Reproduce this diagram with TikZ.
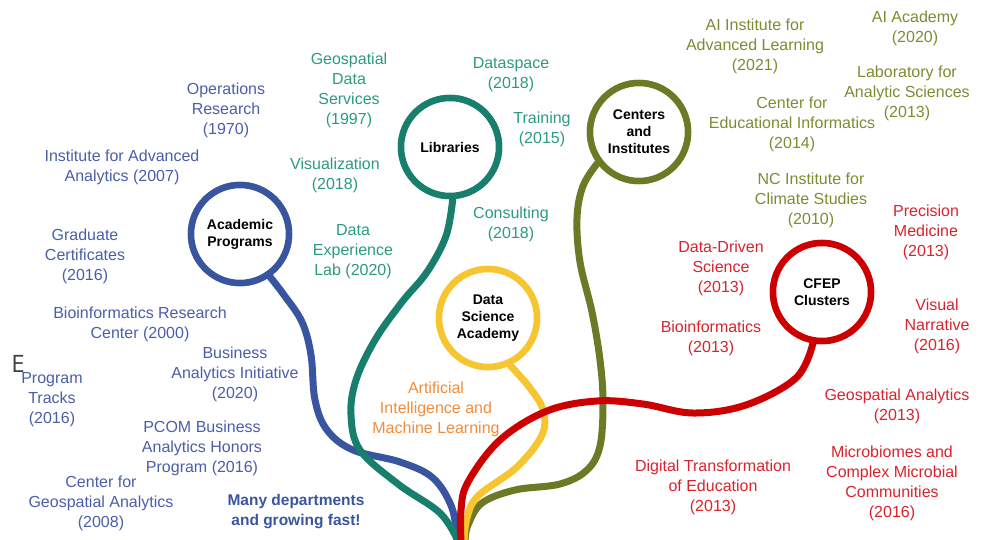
\documentclass[tikz,border=0pt]{standalone}
\usepackage{fontspec}
\setmainfont{Liberation Sans}
\newfontfamily\strayfont{Open Sans}
\definecolor{cblue}{HTML}{3A559F}
\definecolor{tblue}{HTML}{4A5EA9}
\definecolor{cteal}{HTML}{177F6C}
\definecolor{tteal}{HTML}{2B9A7F}
\definecolor{colive}{HTML}{6B7B25}
\definecolor{tolive}{HTML}{7C8C31}
\definecolor{cyellow}{HTML}{F7C52F}
\definecolor{cred}{HTML}{CC0000}
\definecolor{tred}{HTML}{D8232D}
\definecolor{torange}{HTML}{F28C3C}
\tikzset{
  hub/.style={circle, draw, line width=6.5pt, fill=white, minimum size=98pt, inner sep=0pt,
    align=center, font=\fontsize{14}{17}\selectfont\bfseries, text=black},
  lbl/.style={align=center, font=\fontsize{16}{20}\selectfont, inner sep=0pt},
  stem/.style={line width=7pt, line cap=round, line join=round},
}
\begin{document}
\begin{tikzpicture}[x=1pt, y=-1pt]
\useasboundingbox (0,0) rectangle (985,540);
% root coordinates
\coordinate (rb) at (457,541);
\coordinate (rt) at (458,541);
\coordinate (rr) at (461,541);
\coordinate (ry) at (464,541);
\coordinate (ro) at (465,541);
% hubs (positions)
\node[hub, draw=cblue] (ap) at (240,234) {Academic\\Programs};
\node[hub, draw=cteal] (lib) at (450,147) {Libraries};
\node[hub, draw=colive] (cen) at (639,132) {Centers\\and\\Institutes};
\node[hub, draw=cred] (cfep) at (822,292) {CFEP\\Clusters};
\node[hub, draw=cyellow] (dsa) at (488,318) {Data\\Science\\Academy};
% stems
\draw[stem, cblue] plot[smooth, tension=0.6] coordinates {(ap.-55) (284,295) (302,322) (311,355) (315,400) (327,430) (353,450) (400,462) (433,478) (452,508) (rb)};
\draw[stem, cteal] plot[smooth, tension=0.6] coordinates {(lib.-87) (446,236) (427,272) (402,302) (375,340) (356,380) (351,415) (360,450) (398,484) (440,513) (rt)};
\draw[stem, colive] plot[smooth, tension=0.6] coordinates {(cen.-143) (583,186) (577,218) (580,262) (592,312) (600,360) (603,402) (600,446) (587,470) (560,484) (515,490) (482,503) (468,525) (ro)};
\draw[stem, cyellow] plot[smooth, tension=0.6] coordinates {(dsa.-65) (530,388) (543,410) (542,435) (517,467) (478,496) (467,518) (ry)};
\draw[stem, cred] plot[smooth, tension=0.6] coordinates {(cfep.-100) (796,378) (746,405) (693,413) (643,404) (597,401) (547,411) (500,440) (468,482) (461,510) (rr)};
% redraw hubs on top
\node[hub, draw=cblue] at (ap) {Academic\\Programs};
\node[hub, draw=cteal] at (lib) {Libraries};
\node[hub, draw=colive] at (cen) {Centers\\and\\Institutes};
\node[hub, draw=cred] at (cfep) {CFEP\\Clusters};
\node[hub, draw=cyellow] at (dsa) {Data\\Science\\Academy};
% blue labels
\begin{scope}[every node/.style={lbl, text=tblue}]
\node (b1) at (226,110) {Operations\\Research\\(1970)};
\node (b2) at (122,167) {Institute for Advanced\\Analytics (2007)};
\node (b3) at (85,256) {Graduate\\Certificates\\(2016)};
\node (b4) at (140,324) {Bioinformatics Research\\Center (2000)};
\node (b5) at (235,374) {Business\\Analytics Initiative\\(2020)};
\node (b6) at (52,400) {Program\\Tracks\\(2016)};
\node (b7) at (202,448) {PCOM Business\\Analytics Honors\\Program (2016)};
\node (b8) at (101,503) {Center for\\Geospatial Analytics\\(2008)};
\node[font=\fontsize{15.5}{20}\selectfont\bfseries, text=cblue] (b9) at (296,512) {Many departments\\and growing fast!};
\end{scope}
\node[inner sep=0pt, text=black!75, font=\strayfont\fontsize{24}{24}\selectfont] (stray) at (18,364) {E};
% teal labels
\begin{scope}[every node/.style={lbl, text=tteal}]
\node (t1) at (349,90) {Geospatial\\Data\\Services\\(1997)};
\node (t2) at (335,175) {Visualization\\(2018)};
\node (t3) at (353,252) {Data\\Experience\\Lab (2020)};
\node (t4) at (511,75) {Dataspace\\(2018)};
\node (t5) at (542,129) {Training\\(2015)};
\node (t6) at (511,224) {Consulting\\(2018)};
\end{scope}
% olive labels
\begin{scope}[every node/.style={lbl, text=tolive}]
\node (o1) at (755,46) {AI Institute for\\Advanced Learning\\(2021)};
\node (o2) at (915,28) {AI Academy\\(2020)};
\node (o3) at (907,93) {Laboratory for\\Analytic Sciences\\(2013)};
\node (o4) at (792,124) {Center for\\Educational Informatics\\(2014)};
\node (o5) at (811,200) {NC Institute for\\Climate Studies\\(2010)};
\end{scope}
% red labels
\begin{scope}[every node/.style={lbl, text=tred}]
\node (r1) at (926,232) {Precision\\Medicine\\(2013)};
\node (r2) at (721,268) {Data-Driven\\Science\\(2013)};
\node (r3) at (711,338) {Bioinformatics\\(2013)};
\node (r4) at (937,326) {Visual\\Narrative\\(2016)};
\node (r5) at (897,406) {Geospatial Analytics\\(2013)};
\node (r6) at (713,487) {Digital Transformation\\of Education\\(2013)};
\node (r7) at (892,483) {Microbiomes and\\Complex Microbial\\Communities\\(2016)};
\end{scope}
% orange label
\node[lbl, text=torange] (y1) at (436,409) {Artificial\\Intelligence and\\Machine Learning};
\end{tikzpicture}
\end{document}
